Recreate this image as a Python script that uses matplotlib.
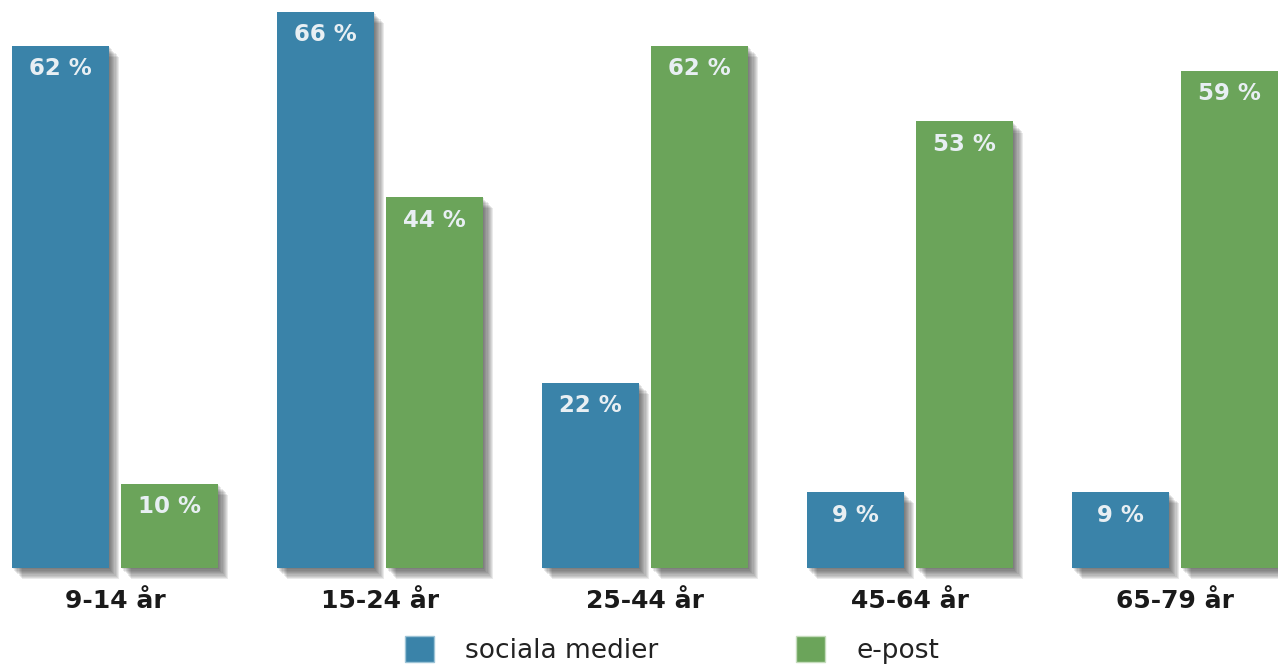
import matplotlib.pyplot as plt
import matplotlib.patheffects as pe
from matplotlib.patches import Patch
import numpy as np

# data
groups = ['9-14 år', '15-24 år', '25-44 år', '45-64 år', '65-79 år']
sociala = [62, 66, 22, 9, 9]
epost = [10, 44, 62, 53, 59]
series_names = ['sociala medier', 'e-post']

BLUE = '#3a83a9'
GREEN = '#6ba45a'

fig = plt.figure(figsize=(12.78, 6.65), dpi=100)
ax = fig.add_axes([0, 97 / 665, 1, 568 / 665])

x = np.arange(len(groups))
w = 0.366
off = 0.206

# soft drop shadow, built from a few stacked offsets
shadow = [pe.SimplePatchShadow(offset=(k * 0.8, -k * 0.9),
                               shadow_rgbFace='#333333', alpha=0.1)
          for k in range(1, 10)] + [pe.Normal()]

b1 = ax.bar(x - off, sociala, w, color=BLUE, path_effects=shadow,
            clip_on=False)
b2 = ax.bar(x + off, epost, w, color=GREEN, path_effects=shadow,
            clip_on=False)

for bars in (b1, b2):
    for rect in bars:
        h = rect.get_height()
        ax.annotate(f'{h:.0f} %',
                    xy=(rect.get_x() + rect.get_width() / 2, h),
                    xytext=(0, -16.5), textcoords='offset points',
                    ha='center', va='center', color='#e8eff3',
                    fontsize=16.5, fontweight='bold')

ax.set_xlim(-0.434, 4.389)
ax.set_ylim(0, 67.4)
ax.set_xticks(x, groups)
ax.set_yticks([])
ax.tick_params(axis='x', length=0, pad=15, labelsize=18)
for lab in ax.get_xticklabels():
    lab.set_fontweight('bold')
    lab.set_color('#1a1a1a')
for s in ax.spines.values():
    s.set_visible(False)

handles = [Patch(facecolor=BLUE, edgecolor='#9cc3d6', linewidth=1),
           Patch(facecolor=GREEN, edgecolor='#c5dcbc', linewidth=1)]
fig.legend(handles=handles, labels=series_names, loc='center',
           bbox_to_anchor=(672 / 1278, 1 - 650 / 665), ncol=2,
           frameon=False, fontsize=19, handlelength=1.1, handleheight=1.1,
           columnspacing=5.2, handletextpad=1.2, labelcolor='#222222')

fig.savefig('out.png', dpi=100)
